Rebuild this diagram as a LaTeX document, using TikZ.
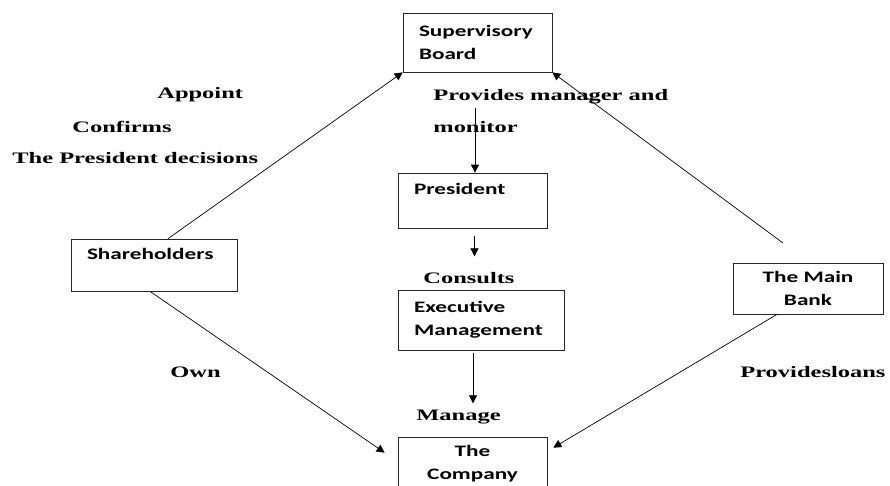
\documentclass[tikz,border=0pt]{standalone}
\usepackage{fontspec}
\usetikzlibrary{arrows.meta}
\newfontfamily\boxfont{Carlito}[FakeStretch=1.45]
\newfontfamily\lblfont{Liberation Serif}[FakeStretch=1.53]

\begin{document}
\begin{tikzpicture}[x=1pt, y=-1pt, line width=0.7pt,
		box/.style={draw=black!85, align=left, inner xsep=16pt, inner ysep=0pt,
			font=\boxfont\bfseries\fontsize{16}{23}\selectfont},
		lbl/.style={anchor=west, inner sep=0pt,
			font=\lblfont\bfseries\fontsize{16}{19}\selectfont},
		flow/.style={-{Triangle[length=8pt,width=8pt]}}]
	\useasboundingbox (0,0) rectangle (890,485);

	% boxes
	\node[box, text width=117pt, minimum height=59pt] (board) at (477.5,42.5) {Supervisory\\Board};
	\node[box, text width=117pt, minimum height=55pt] (pres) at (472.5,200.5) {President\\~};
	\node[box, text width=134pt, minimum height=60pt] (exec) at (481,320) {Executive\\Management};
	\node[box, text width=134pt, minimum height=52pt] (share) at (154,265) {Shareholders\\~};
	\node[box, align=center, text width=118pt, minimum height=51pt] (bank) at (808,288.5) {The Main\\Bank};
	\node[box, align=center, text width=117pt, minimum height=54pt] (firm) at (472.5,464) {The\\Company};

	% labels
	\node[lbl] (appoint) at (157,95) {Appoint};
	\node[lbl] (confirms) at (72,127) {Confirms};
	\node[lbl] (decisions) at (12,158) {The President decisions};
	\node[lbl] (provides) at (433,97) {Provides manager and};
	\node[lbl] (monitor) at (433,127) {monitor};
	\node[lbl] (consults) at (423,278) {Consults};
	\node[lbl] (manage) at (416,417) {Manage};
	\node[lbl] (own) at (170,372) {Own};
	\node[lbl] (loans) at (740,372) {Providesloans};

	% loose ends of the arrows
	\coordinate (bankTop) at (783,243);
	\coordinate (boardFoot) at (475,108);

	\draw[flow] ([xshift=14pt]share.north) -- (board.south west);
	\draw[flow] (bankTop) -- (board.south east);
	\draw[flow] (boardFoot) -- (boardFoot |- pres.north);
	\draw[flow] ([xshift=2pt,yshift=-8pt]pres.south) -- ([xshift=2pt,yshift=-28pt]pres.south);
	\draw[flow] ([xshift=-8pt,yshift=-3pt]exec.south) -- ([xshift=-8pt,yshift=-53pt]exec.south);
	\draw[flow] ([xshift=-4pt]share.south) -- ([xshift=-13pt,yshift=-16pt]firm.north west);
	\draw[flow] ([xshift=-31pt]bank.south) -- ([xshift=6pt,yshift=-11pt]firm.north east);
\end{tikzpicture}
\end{document}
